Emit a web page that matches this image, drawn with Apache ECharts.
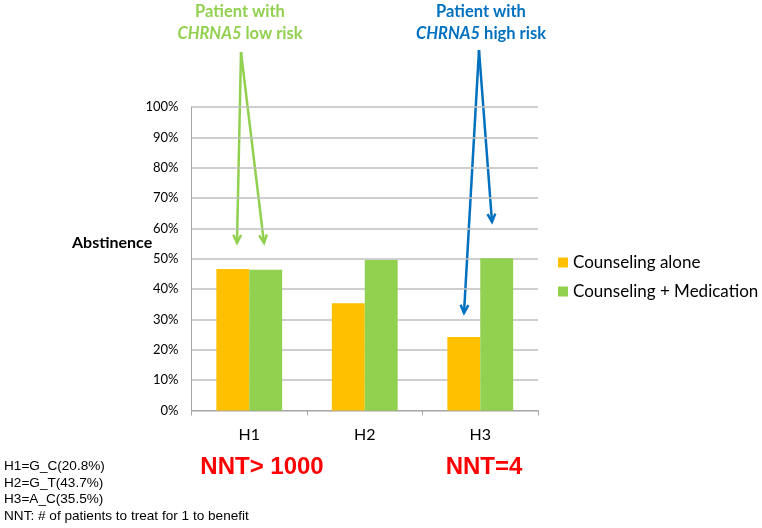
<!DOCTYPE html>
<html>
<head>
<meta charset="utf-8">
<script src="https://cdn.jsdelivr.net/npm/echarts@6/dist/echarts.min.js"></script>
<style>
  html, body { margin: 0; padding: 0; background: #fff; }
  #main { width: 762px; height: 528px; }
</style>
</head>
<body>
<div id="main"></div>
<script>
// data
var categories = ['H1', 'H2', 'H3'];
var counselingAlone = [46.6, 35.3, 24.2];
var counselingMed = [46.4, 49.6, 50.2];
var seriesNames = ['Counseling alone', 'Counseling + Medication'];
var footnotes = ['H1=G_C(20.8%)', 'H2=G_T(43.7%)', 'H3=A_C(35.5%)', 'NNT: # of patients to treat for 1 to benefit'];

var ORANGE = '#FFC000';
var GREEN = '#92D050';
var BLUE = '#0070C0';
var FONT = 'Lato, "Open Sans", sans-serif';

var chart = echarts.init(document.getElementById('main'));

// arrow helper: line + open arrowhead
function arrow(x1, y1, x2, y2, color) {
  var ang = Math.atan2(y2 - y1, x2 - x1);
  var len = 9, spread = 0.45;
  var a = [x2 - len * Math.cos(ang - spread), y2 - len * Math.sin(ang - spread)];
  var b = [x2 - len * Math.cos(ang + spread), y2 - len * Math.sin(ang + spread)];
  return [
    { type: 'line', shape: { x1: x1, y1: y1, x2: x2, y2: y2 }, style: { stroke: color, lineWidth: 2.5 } },
    { type: 'polyline', shape: { points: [a, [x2, y2], b] }, style: { stroke: color, lineWidth: 2.5, fill: null } }
  ];
}

function label(x, y, text, color, extra) {
  var style = { text: text, fill: color, font: 'bold 16.5px ' + FONT, textAlign: 'center', textVerticalAlign: 'middle' };
  if (extra) style.rich = { i: { fontStyle: 'italic', fontWeight: 'bold', fontSize: 16.5, fontFamily: FONT, fill: color } };
  return { type: 'text', x: x, y: y, style: style };
}

var graphics = [];
graphics = graphics.concat(arrow(241, 52, 237, 243, GREEN));
graphics = graphics.concat(arrow(241, 52, 264, 243, GREEN));
graphics = graphics.concat(arrow(479, 50, 464, 313, BLUE));
graphics = graphics.concat(arrow(479, 50, 492, 222, BLUE));

graphics.push(label(240, 12, 'Patient with', GREEN));
graphics.push(label(240, 34, '{i|CHRNA5} low risk', GREEN, true));
graphics.push(label(481, 12, 'Patient with', BLUE));
graphics.push(label(481, 34, '{i|CHRNA5} high risk', BLUE, true));

graphics.push({
  type: 'text', x: 72, y: 243,
  style: { text: 'Abstinence', fill: '#000', font: 'bold 16px ' + FONT, textVerticalAlign: 'middle' }
});
graphics.push({
  type: 'text', x: 262, y: 467,
  style: { text: 'NNT> 1000', fill: '#ff0000', font: 'bold 24px "Liberation Sans", Arial, sans-serif', textAlign: 'center', textVerticalAlign: 'middle' }
});
graphics.push({
  type: 'text', x: 484, y: 467,
  style: { text: 'NNT=4', fill: '#ff0000', font: 'bold 24px "Liberation Sans", Arial, sans-serif', textAlign: 'center', textVerticalAlign: 'middle' }
});
graphics.push({
  type: 'text', x: 4, y: 458,
  style: { text: footnotes.join('\n'), fill: '#000', font: '13.6px "Liberation Sans", Arial, sans-serif', lineHeight: 16.5 }
});

var option = {
  animation: false,
  grid: { left: 191.5, right: 224, top: 107, bottom: 117.5, containLabel: false },
  legend: {
    orient: 'vertical', left: 553, top: 249,
    icon: 'rect', itemWidth: 10, itemHeight: 10, itemGap: 12,
    textStyle: { fontSize: 17, color: '#000', fontFamily: FONT },
    data: seriesNames
  },
  xAxis: {
    type: 'category', data: categories,
    axisLine: { lineStyle: { color: '#a6a6a6' } },
    axisTick: { show: true, length: 5, lineStyle: { color: '#a6a6a6' } },
    axisLabel: { fontSize: 16, color: '#000', margin: 16, fontFamily: FONT }
  },
  yAxis: {
    type: 'value', min: 0, max: 100, interval: 10,
    axisLine: { show: true, lineStyle: { color: '#a6a6a6' } },
    axisTick: { show: false },
    splitLine: { lineStyle: { color: '#bfbfbf', width: 1.5 } },
    axisLabel: { formatter: '{value}%', fontSize: 13, color: '#000', margin: 13, fontFamily: FONT }
  },
  series: [{
    name: seriesNames[0], type: 'bar', data: counselingAlone,
    itemStyle: { color: ORANGE }, barGap: '0%', barCategoryGap: '43%'
  }, {
    name: seriesNames[1], type: 'bar', data: counselingMed,
    itemStyle: { color: GREEN }, barGap: '0%', barCategoryGap: '43%'
  }],
  graphic: graphics
};
chart.setOption(option);
</script>
</body>
</html>
